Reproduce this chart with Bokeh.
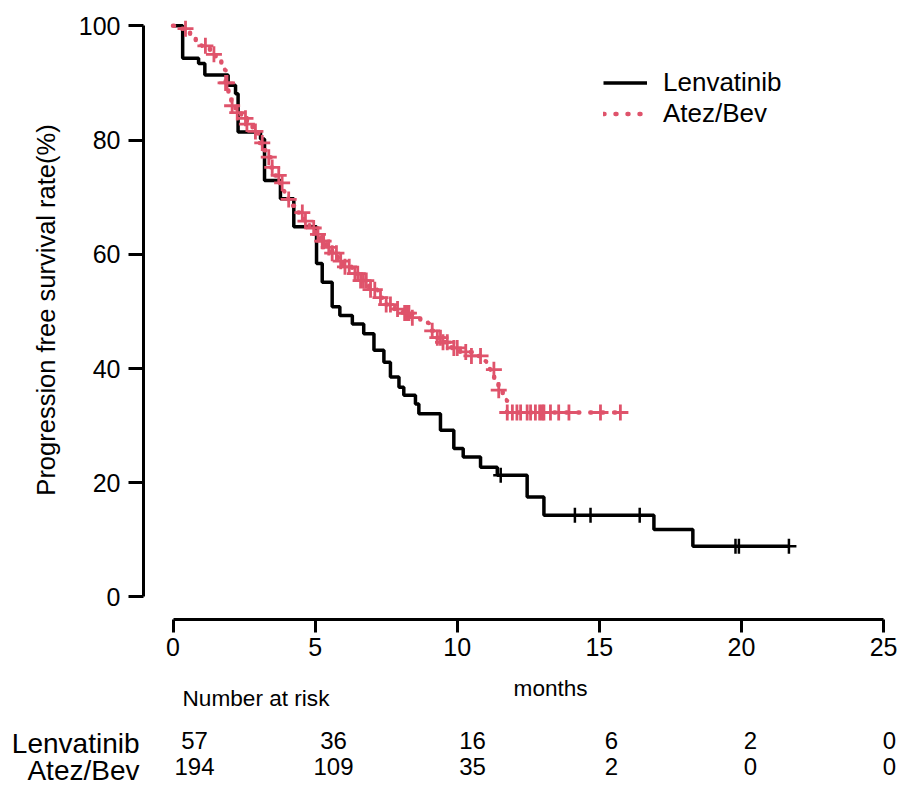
from bokeh.plotting import figure
from bokeh.models import Range1d, Legend, LegendItem, ColumnDataSource, FixedTicker
from bokeh.layouts import column
from bokeh.embed import file_html
from bokeh.resources import INLINE
from bokeh.core.properties import value
import numpy as np

# ---------------- data ----------------
# Lenvatinib: event times (months) and survival (%) after each step
len_t = [0, 0.34, 0.90, 1.12, 1.94, 2.20, 2.29, 3.08, 3.22, 3.78, 4.25, 5.05, 5.25,
         5.60, 5.87, 6.31, 6.71, 7.07, 7.42, 7.65, 7.95, 8.12, 8.53, 8.65, 9.41,
         9.88, 10.21, 10.82, 11.41, 12.46, 13.05, 16.92, 18.29]
len_s = [100, 94.3, 93.4, 91.4, 89.6, 88.1, 81.4, 80.2, 72.9, 69.7, 64.8, 58.4, 55.1,
         50.8, 49.3, 47.8, 46.1, 43.2, 41.1, 38.5, 36.7, 35.3, 33.8, 32.1, 29.2,
         26.0, 24.5, 22.7, 21.3, 17.5, 14.3, 11.8, 8.9]
len_cens = [11.53, 14.14, 14.69, 16.42, 19.79, 19.91, 21.67]

# Atez/Bev
atez_t = [0, 0.30, 0.60, 0.80, 1.00, 1.30, 1.50, 1.70, 1.85, 1.95, 2.05, 2.20, 2.40,
          2.60, 2.80, 3.00, 3.15, 3.30, 3.45, 3.60, 3.75, 3.90, 4.05, 4.20, 4.40,
          4.60, 4.80, 5.00, 5.20, 5.40, 5.60, 5.80, 6.00, 6.30, 6.60, 6.90, 7.20,
          7.50, 7.80, 8.10, 8.40, 8.70, 9.00, 9.20, 9.50, 9.80, 10.10, 10.50, 11.00,
          11.15, 11.30, 11.45, 11.60, 11.75]
atez_s = [100, 99.5, 98.5, 97.0, 96.5, 95.0, 93.8, 92.3, 90.0, 88.0, 86.0, 84.8, 83.8,
          82.8, 81.5, 79.5, 78.2, 77.0, 75.2, 73.8, 72.5, 71.0, 69.6, 68.5, 67.3,
          65.8, 64.6, 63.5, 62.3, 61.2, 60.2, 58.8, 57.8, 56.6, 55.4, 53.8, 52.4,
          51.2, 50.4, 49.7, 48.9, 48.0, 46.6, 45.4, 44.6, 43.6, 42.9, 42.2, 41.2,
          39.8, 38.4, 36.2, 34.5, 32.3]
atez_cens = [0.44, 1.14, 1.44, 1.85, 1.90, 2.08, 2.26, 2.55, 2.60, 2.90, 3.14, 3.37,
             3.49, 3.72, 3.84, 4.07, 4.55, 4.66, 4.95, 5.10, 5.25, 5.30, 5.48, 5.60,
             5.75, 5.90, 6.05, 6.20, 6.40, 6.50, 6.60, 6.70, 6.80, 6.95, 7.10, 7.30,
             7.50, 7.65, 7.90, 8.15, 8.24, 8.30, 8.42, 9.12, 9.30, 9.41, 9.50, 9.65,
             9.88, 10.00, 10.30, 10.50, 10.82, 11.29, 11.46, 11.76, 11.94, 12.10,
             12.23, 12.46, 12.58, 12.75, 12.90, 12.99, 13.05, 13.28, 13.57, 13.93,
             15.04, 15.74]

groups = ["Lenvatinib", "Atez/Bev"]
risk_times = [0, 5, 10, 15, 20, 25]
risk_len = [57, 36, 16, 6, 2, 0]
risk_atez = [194, 109, 35, 2, 0, 0]
x_ticks = [0, 5, 10, 15, 20, 25]
y_ticks = [0, 20, 40, 60, 80, 100]

PINK = "#DF536B"
FONT = "Liberation Sans"


def step_source(t, s, cens):
    t = list(t) + [max(cens)]
    s = list(s) + [s[-1]]
    return ColumnDataSource(dict(t=t, s=s))


def cens_source(t, s, cens):
    idx = np.searchsorted(np.array(t), np.array(cens), side="right") - 1
    return ColumnDataSource(dict(t=cens, s=[s[i] for i in idx]))


# ---------------- main plot ----------------
p = figure(width=897, height=668, x_range=Range1d(-1.038, 25.49),
           y_range=Range1d(-3.94, 104.43), output_backend="svg",
           toolbar_location=None, min_border_left=143, min_border_right=0,
           min_border_top=0, min_border_bottom=49)
p.outline_line_color = None
p.xgrid.grid_line_color = None
p.ygrid.grid_line_color = None

r_len = p.step(x="t", y="s", source=step_source(len_t, len_s, len_cens), mode="after",
               line_color="black", line_width=3.5)
p.scatter(x="t", y="s", source=cens_source(len_t, len_s, len_cens), marker="cross",
          size=15, line_color="black", line_width=2.5)

r_atez = p.step(x="t", y="s", source=step_source(atez_t, atez_s, atez_cens), mode="after",
                line_color=PINK, line_width=4.5, line_dash="1 11", line_cap="round")
p.scatter(x="t", y="s", source=cens_source(atez_t, atez_s, atez_cens), marker="cross",
          size=16, line_color=PINK, line_width=2.8)

for ax in (p.xaxis[0], p.yaxis[0]):
    ax.axis_line_width = 3
    ax.major_tick_line_width = 3
    ax.major_tick_in = 0
    ax.minor_tick_in = 0
    ax.minor_tick_out = 0
    ax.major_label_text_font = FONT
    ax.major_label_text_font_size = "25px"
    ax.major_label_text_color = "black"
    ax.axis_line_color = "black"
    ax.major_tick_line_color = "black"

p.xaxis.ticker = FixedTicker(ticks=x_ticks)
p.xaxis.bounds = (0, 25)
p.xaxis.major_tick_out = 13
p.xaxis.major_label_standoff = 5

p.yaxis.ticker = FixedTicker(ticks=y_ticks)
p.yaxis.bounds = (0, 100)
p.yaxis.major_tick_out = 15
p.yaxis.major_label_standoff = 8
p.yaxis.axis_label = "Progression free survival rate(%)"
p.yaxis.axis_label_text_font = FONT
p.yaxis.axis_label_text_font_size = "25.5px"
p.yaxis.axis_label_text_font_style = "normal"
p.yaxis.axis_label_text_color = "black"
p.yaxis.axis_label_standoff = 16

legend = Legend(items=[LegendItem(label=groups[0], renderers=[r_len]),
                       LegendItem(label=groups[1], renderers=[r_atez])],
                location=(460, 490), border_line_alpha=0, background_fill_alpha=0,
                label_text_font=FONT, label_text_font_size="26px",
                label_text_color="black",
                glyph_width=44, glyph_height=29, label_height=29, label_standoff=16,
                padding=0, margin=0, spacing=0)
p.add_layout(legend)

# ---------------- number at risk table ----------------
# y of the table is counted in pixel rows from the top of this strip
row_label_y = [75, 102]
row_num_y = [72, 98]
q = figure(width=897, height=118, x_range=Range1d(-1.835, 25.288),
           y_range=Range1d(118, 0), output_backend="svg", toolbar_location=None,
           x_axis_type=None, min_border_left=143, min_border_right=0,
           min_border_top=0, min_border_bottom=0)
q.outline_line_color = None
q.xgrid.grid_line_color = None
q.ygrid.grid_line_color = None
q.yaxis.ticker = FixedTicker(ticks=row_label_y)
q.yaxis.major_label_overrides = {row_label_y[0]: groups[0], row_label_y[1]: groups[1]}
q.yaxis.axis_line_color = None
q.yaxis.major_tick_line_color = None
q.yaxis.minor_tick_line_color = None
q.yaxis.major_tick_in = 0
q.yaxis.major_tick_out = 0
q.yaxis.major_label_standoff = 4
q.yaxis.major_label_text_font = FONT
q.yaxis.major_label_text_font_size = "28px"
q.yaxis.major_label_text_color = "black"

q.text(x=[12.81], y=[20], text=["months"], text_align="center", text_baseline="middle",
       text_font=value(FONT), text_font_size="22.6px", text_color="black")
q.text(x=[-0.43], y=[30], text=["Number at risk"], text_align="left",
       text_baseline="middle", text_font=value(FONT), text_font_size="22.6px",
       text_color="black")
q.text(x=risk_times, y=[row_num_y[0]] * len(risk_times), text=[str(v) for v in risk_len],
       text_align="center", text_baseline="middle", text_font=value(FONT),
       text_font_size="24px", text_color="black")
q.text(x=risk_times, y=[row_num_y[1]] * len(risk_times), text=[str(v) for v in risk_atez],
       text_align="center", text_baseline="middle", text_font=value(FONT),
       text_font_size="24px", text_color="black")

layout = column(p, q, spacing=0)
open("out.html", "w").write(file_html(layout, INLINE))
